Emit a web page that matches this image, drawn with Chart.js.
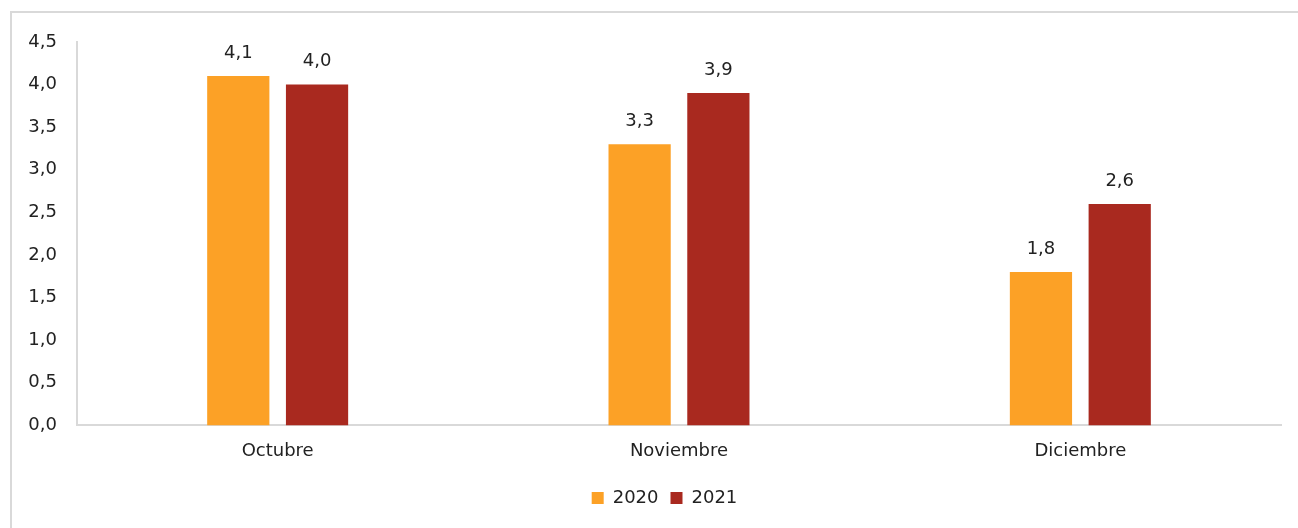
<!DOCTYPE html>
<html>
<head>
<meta charset="utf-8">
<script src="https://cdn.jsdelivr.net/npm/chart.js@4"></script>
<style>
  html, body { margin: 0; padding: 0; background: #fff; overflow: hidden; width: 1298px; height: 528px; }
  .frame {
    position: absolute; left: 10px; top: 11px;
    width: 1288px; height: 517px;
    border-left: 2px solid #d9d9d9; border-top: 2px solid #d9d9d9; box-sizing: border-box;
  }
  .chart-wrapper { position: absolute; left: 0; top: 0; width: 1298px; height: 528px; }
</style>
</head>
<body>
<div class="frame"></div>
<div class="chart-wrapper"><canvas id="salesChart"></canvas></div>
<script>
// ===== Data =====
const months = ["Octubre", "Noviembre", "Diciembre"];
const values2020 = [4.1, 3.3, 1.8];
const values2021 = [4.0, 3.9, 2.6];
const yTicks = [0, 0.5, 1, 1.5, 2, 2.5, 3, 3.5, 4, 4.5];

const FONT = "'DejaVu Sans', sans-serif";
const fmt = v => v.toFixed(1).replace(".", ",");

// ===== Value labels above bars =====
const valueLabels = {
  id: "valueLabels",
  afterDatasetsDraw(chart) {
    const ctx = chart.ctx;
    ctx.save();
    ctx.font = "18px " + FONT;
    ctx.fillStyle = "#222";
    ctx.textAlign = "center";
    ctx.textBaseline = "middle";
    chart.data.datasets.forEach((ds, i) => {
      chart.getDatasetMeta(i).data.forEach((bar, j) => {
        ctx.fillText(fmt(ds.data[j]), bar.x, bar.y - 23);
      });
    });
    ctx.restore();
  }
};

// legend sits a bit right of the canvas centre in the original
const legendShift = {
  id: "legendShift",
  afterLayout(chart) {
    chart.legend.left += 14;
    chart.legend.right += 14;
  }
};

Chart.defaults.font.family = FONT;
Chart.defaults.color = "#222";

new Chart(document.getElementById("salesChart"), {
  type: "bar",
  data: {
    labels: months,
    datasets: [
      { label: "2020", data: values2020, backgroundColor: "#FCA126",
        categoryPercentage: 0.3925, barPercentage: 0.79 },
      { label: "2021", data: values2021, backgroundColor: "#A9291F",
        categoryPercentage: 0.3925, barPercentage: 0.79 }
    ]
  },
  options: {
    responsive: true,
    maintainAspectRatio: false,
    animation: false,
    layout: { padding: { left: 20, top: 42, right: 17, bottom: 11 } },
    plugins: {
      tooltip: { enabled: false },
      legend: {
        position: "bottom",
        labels: {
          boxWidth: 12, boxHeight: 12, padding: 12,
          font: { size: 18 }, color: "#222"
        }
      }
    },
    scales: {
      x: {
        grid: { display: false, drawTicks: false },
        border: { display: true, color: "#d9d9d9", width: 2 },
        ticks: { font: { size: 18 }, padding: 15, color: "#222" }
      },
      y: {
        min: 0, max: 4.5,
        afterFit(scale) { scale.width = 57; },
        afterBuildTicks(scale) { scale.ticks = yTicks.map(v => ({ value: v })); },
        grid: { display: false, drawTicks: false },
        border: { display: true, color: "#d9d9d9", width: 2 },
        ticks: { font: { size: 18 }, padding: 20, color: "#222", callback: v => fmt(v) }
      }
    }
  },
  plugins: [valueLabels, legendShift]
});
</script>
</body>
</html>
